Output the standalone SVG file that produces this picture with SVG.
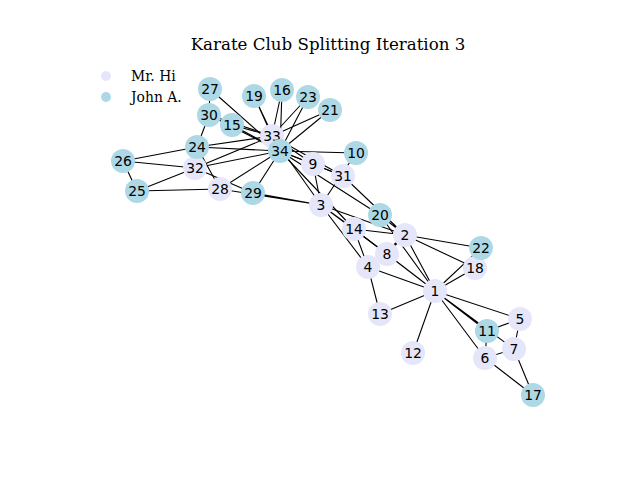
<svg xmlns="http://www.w3.org/2000/svg" width="640" height="480" viewBox="0 0 640 480">
<style>
.e{stroke:#000;stroke-width:1.1;fill:none}
.hi{fill:#e6e6fa}
.ja{fill:#add8e6}
.n text{font-family:"DejaVu Sans",sans-serif;font-size:13.9px;text-anchor:middle;dominant-baseline:central;fill:#000}
.t{font-family:"DejaVu Serif",serif;fill:#000}
</style>
<rect width="640" height="480" fill="#fff"/>
<text class="t" x="328" y="50" font-size="16.67" text-anchor="middle">Karate Club Splitting Iteration 3</text>
<g id="legend">
<circle cx="106" cy="76" r="5" class="hi"/>
<text class="t" x="131" y="81" font-size="13.9">Mr. Hi</text>
<circle cx="106" cy="97" r="5" class="ja"/>
<text class="t" x="131" y="102" font-size="13.9">John A.</text>
</g>
<g id="edges" class="e">
<path d="M435,291L405,235M435,291L368,267M435,291L520,319M435,291L485,358M435,291L514,349M435,291L387,254M435,291L487,331M435,291L413,353M435,291L380,314M435,291L354,229M435,291L475,268M435,291L380,215M435,291L481,248"/>
<path d="M405,235L321,205M405,235L368,267M405,235L387,254M405,235L354,229M405,235L475,268M405,235L380,215M405,235L481,248M405,235L343,176"/>
<path d="M321,205L368,267M321,205L387,254M321,205L313,164M321,205L356,153M321,205L354,229M321,205L220,189M321,205L253,193M321,205L272,136"/>
<path d="M368,267L387,254M368,267L380,314M368,267L354,229"/>
<path d="M520,319L514,349M520,319L487,331M485,358L514,349M485,358L487,331M485,358L533,395M514,349L533,395"/>
<path d="M313,164L343,176M313,164L272,136M313,164L280,151M356,153L280,151M354,229L280,151"/>
<path d="M232,125L272,136M232,125L280,151M282,90L272,136M282,90L280,151M254,96L272,136M254,96L280,151M380,215L280,151M330,110L272,136M330,110L280,151M308,97L272,136M308,97L280,151"/>
<path d="M197,147L123,161M197,147L220,189M197,147L209,115M197,147L272,136M197,147L280,151"/>
<path d="M137,191L123,161M137,191L220,189M137,191L195,168M123,161L195,168M210,89L209,115M210,89L280,151M220,189L280,151"/>
<path d="M253,193L195,168M253,193L280,151M209,115L272,136M209,115L280,151M343,176L272,136M343,176L280,151M195,168L272,136M195,168L280,151M272,136L280,151"/>
</g>
<g id="n1" class="n"><circle cx="435" cy="291" r="12" class="hi"/><text x="435" y="291">1</text></g>
<g id="n2" class="n"><circle cx="405" cy="235" r="12" class="hi"/><text x="405" y="235">2</text></g>
<g id="n3" class="n"><circle cx="321" cy="205" r="12" class="hi"/><text x="321" y="205">3</text></g>
<g id="n4" class="n"><circle cx="368" cy="267" r="12" class="hi"/><text x="368" y="267">4</text></g>
<g id="n5" class="n"><circle cx="520" cy="319" r="12" class="hi"/><text x="520" y="319">5</text></g>
<g id="n6" class="n"><circle cx="485" cy="358" r="12" class="hi"/><text x="485" y="358">6</text></g>
<g id="n7" class="n"><circle cx="514" cy="349" r="12" class="hi"/><text x="514" y="349">7</text></g>
<g id="n8" class="n"><circle cx="387" cy="254" r="12" class="hi"/><text x="387" y="254">8</text></g>
<g id="n9" class="n"><circle cx="313" cy="164" r="12" class="hi"/><text x="313" y="164">9</text></g>
<g id="n12" class="n"><circle cx="413" cy="353" r="12" class="hi"/><text x="413" y="353">12</text></g>
<g id="n13" class="n"><circle cx="380" cy="314" r="12" class="hi"/><text x="380" y="314">13</text></g>
<g id="n14" class="n"><circle cx="354" cy="229" r="12" class="hi"/><text x="354" y="229">14</text></g>
<g id="n18" class="n"><circle cx="475" cy="268" r="12" class="hi"/><text x="475" y="268">18</text></g>
<g id="n28" class="n"><circle cx="220" cy="189" r="12" class="hi"/><text x="220" y="189">28</text></g>
<g id="n31" class="n"><circle cx="343" cy="176" r="12" class="hi"/><text x="343" y="176">31</text></g>
<g id="n32" class="n"><circle cx="195" cy="168" r="12" class="hi"/><text x="195" y="168">32</text></g>
<g id="n33" class="n"><circle cx="272" cy="136" r="12" class="hi"/><text x="272" y="136">33</text></g>
<g id="n10" class="n"><circle cx="356" cy="153" r="12" class="ja"/><text x="356" y="153">10</text></g>
<g id="n11" class="n"><circle cx="487" cy="331" r="12" class="ja"/><text x="487" y="331">11</text></g>
<g id="n15" class="n"><circle cx="232" cy="125" r="12" class="ja"/><text x="232" y="125">15</text></g>
<g id="n16" class="n"><circle cx="282" cy="90" r="12" class="ja"/><text x="282" y="90">16</text></g>
<g id="n17" class="n"><circle cx="533" cy="395" r="12" class="ja"/><text x="533" y="395">17</text></g>
<g id="n19" class="n"><circle cx="254" cy="96" r="12" class="ja"/><text x="254" y="96">19</text></g>
<g id="n20" class="n"><circle cx="380" cy="215" r="12" class="ja"/><text x="380" y="215">20</text></g>
<g id="n21" class="n"><circle cx="330" cy="110" r="12" class="ja"/><text x="330" y="110">21</text></g>
<g id="n22" class="n"><circle cx="481" cy="248" r="12" class="ja"/><text x="481" y="248">22</text></g>
<g id="n23" class="n"><circle cx="308" cy="97" r="12" class="ja"/><text x="308" y="97">23</text></g>
<g id="n24" class="n"><circle cx="197" cy="147" r="12" class="ja"/><text x="197" y="147">24</text></g>
<g id="n25" class="n"><circle cx="137" cy="191" r="12" class="ja"/><text x="137" y="191">25</text></g>
<g id="n26" class="n"><circle cx="123" cy="161" r="12" class="ja"/><text x="123" y="161">26</text></g>
<g id="n27" class="n"><circle cx="210" cy="89" r="12" class="ja"/><text x="210" y="89">27</text></g>
<g id="n29" class="n"><circle cx="253" cy="193" r="12" class="ja"/><text x="253" y="193">29</text></g>
<g id="n30" class="n"><circle cx="209" cy="115" r="12" class="ja"/><text x="209" y="115">30</text></g>
<g id="n34" class="n"><circle cx="280" cy="151" r="12" class="ja"/><text x="280" y="151">34</text></g>
</svg>
